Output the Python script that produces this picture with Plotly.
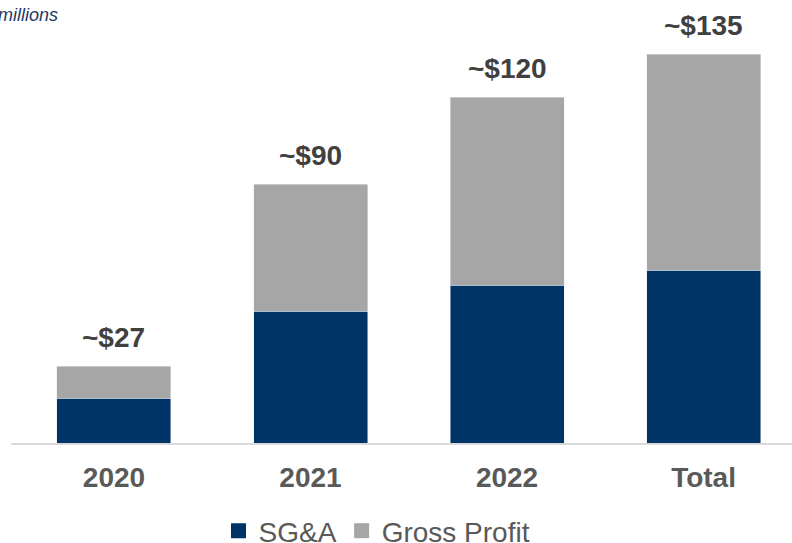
import plotly.graph_objects as go

categories = ["2020", "2021", "2022", "Total"]
sga = [15.6, 45.8, 54.8, 60.0]
gross_profit = [11.1, 44.1, 65.3, 75.0]
total_labels = ["~$27", "~$90", "~$120", "~$135"]

NAVY = "#003366"
GREY = "#A6A6A6"
TXT = "#595959"
FONT = "Liberation Sans, Arial, sans-serif"

totals = [a + b for a, b in zip(sga, gross_profit)]

fig = go.Figure()
fig.add_trace(go.Bar(x=categories, y=sga, name="SG&A", marker_color=NAVY,
                     width=0.58, showlegend=False, hoverinfo="y"))
fig.add_trace(go.Bar(x=categories, y=gross_profit, name="Gross Profit", marker_color=GREY,
                     width=0.58, showlegend=False, hoverinfo="y"))
# legend entries with larger square symbols
fig.add_trace(go.Scatter(x=[None], y=[None], mode="markers", name="SG&A",
                         marker=dict(symbol="square", size=15, color=NAVY)))
fig.add_trace(go.Scatter(x=[None], y=[None], mode="markers", name="Gross Profit",
                         marker=dict(symbol="square", size=15, color=GREY)))

for i, (t, lab) in enumerate(zip(totals, total_labels)):
    fig.add_annotation(x=i, y=t, text="<b>%s</b>" % lab, showarrow=False,
                       yanchor="middle", yshift=29,
                       font=dict(family=FONT, size=28, color="#404040"))

fig.add_annotation(xref="paper", yref="paper", x=(60 - 11) / 781, y=1,
                   xanchor="right", yanchor="top", yshift=-3, text="<i>millions</i>",
                   showarrow=False, font=dict(family=FONT, size=18, color="#1F3864"))

fig.update_layout(
    width=792, height=543,
    margin=dict(l=11, r=0, t=0, b=100, autoexpand=False),
    barmode="stack",
    plot_bgcolor="white", paper_bgcolor="white",
    font=dict(family=FONT, color=TXT),
    legend=dict(orientation="h", x=(377 - 11) / 781, xanchor="center",
                y=(443 - 531) / 443, yanchor="middle", traceorder="normal",
                font=dict(family=FONT, size=28, color=TXT),
                itemwidth=30, bgcolor="rgba(0,0,0,0)"),
    xaxis=dict(type="category", range=[-0.524, 3.45], showline=True, linecolor="#D9D9D9",
               linewidth=2, showgrid=False, ticks="", zeroline=False,
               ticklabelstandoff=8,
               tickfont=dict(family=FONT, size=28, color=TXT),
               tickvals=categories, ticktext=["<b>%s</b>" % c for c in categories]),
    yaxis=dict(range=[0, 153.8], visible=False, showgrid=False, zeroline=False),
)

fig.write_html("out.html")
